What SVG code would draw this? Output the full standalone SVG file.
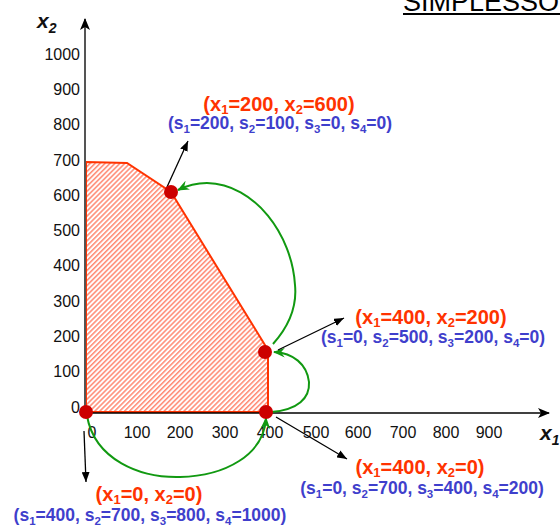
<svg xmlns="http://www.w3.org/2000/svg" width="560" height="527" viewBox="0 0 560 527">
<style>
.tick{font-family:"Liberation Sans",Arial,sans-serif;font-size:16px;fill:#111}
.ax{font-family:"Liberation Sans",Arial,sans-serif;font-size:21px;font-weight:bold;font-style:italic;fill:#111}
.xl{font-family:"Liberation Sans",Arial,sans-serif;font-size:20px;font-weight:bold;fill:#ff3300;text-anchor:middle}
.sl{font-family:"Liberation Sans",Arial,sans-serif;font-size:17.5px;font-weight:bold;fill:#3f3fcc;text-anchor:middle}
.dot{fill:#cc0000}
.g{fill:none;stroke:#119911;stroke-width:2;marker-end:url(#ga)}
.k{fill:none;stroke:#000;stroke-width:1.3;marker-end:url(#ka)}
</style>
<defs>
<pattern id="hatch" patternUnits="userSpaceOnUse" width="3.5" height="3.5" patternTransform="rotate(45)">
<rect width="3.5" height="3.5" fill="#fff"/>
<line x1="0.8" y1="0" x2="0.8" y2="3.5" stroke="#ff6a4d" stroke-width="1.2"/>
</pattern>
<marker id="ga" viewBox="0 0 12 10" refX="11" refY="5" markerWidth="12" markerHeight="10" markerUnits="userSpaceOnUse" orient="auto">
<path d="M0,0 L12,5 L0,10 L4,5 z" fill="#119911"/>
</marker>
<marker id="ka" viewBox="0 0 10 8" refX="10" refY="4" markerWidth="10" markerHeight="8" markerUnits="userSpaceOnUse" orient="auto">
<path d="M0,0 L10,4 L0,8 z" fill="#000"/>
</marker>
<marker id="axa" viewBox="0 0 12 10" refX="11" refY="5" markerWidth="12" markerHeight="10" markerUnits="userSpaceOnUse" orient="auto">
<path d="M0,0 L12,5 L0,10 L3,5 z" fill="#000"/>
</marker>
</defs>
<rect width="560" height="527" fill="#fff"/>

<g id="title">
<text x="403" y="11" font-family="'Liberation Sans',Arial,sans-serif" font-size="27" fill="#000">SIMPLESSO</text>
<line x1="403" y1="14" x2="560" y2="14" stroke="#000" stroke-width="2"/>
</g>

<g id="region">
<polygon points="86,162 127,163 171,192 268,350 268,412 86,412" fill="url(#hatch)" stroke="#ff3300" stroke-width="2"/>
</g>

<g id="axes">
<line x1="85" y1="413" x2="85" y2="19" stroke="#555" stroke-width="2" marker-end="url(#axa)"/>
<line x1="85" y1="413" x2="549" y2="413" stroke="#000" stroke-width="1.6" marker-end="url(#axa)"/>
<text class="ax" x="37" y="28">x<tspan font-size="14" dy="5">2</tspan></text>
<text class="ax" x="540" y="440">x<tspan font-size="14" dy="5">1</tspan></text>
<g class="tick" text-anchor="end">
<text x="80" y="60">1000</text>
<text x="80" y="95">900</text>
<text x="80" y="130">800</text>
<text x="80" y="166">700</text>
<text x="80" y="201">600</text>
<text x="80" y="236">500</text>
<text x="80" y="271">400</text>
<text x="80" y="307">300</text>
<text x="80" y="342">200</text>
<text x="80" y="377">100</text>
<text x="80" y="413">0</text>
</g>
<g class="tick" text-anchor="middle">
<text x="92" y="438">0</text>
<text x="137" y="438">100</text>
<text x="180" y="438">200</text>
<text x="225" y="438">300</text>
<text x="270" y="438">400</text>
<text x="316" y="438">500</text>
<text x="358" y="438">600</text>
<text x="403" y="438">700</text>
<text x="446" y="438">800</text>
<text x="489" y="438">900</text>
</g>
</g>

<g id="connectors">
<path class="g" d="M87,416 C95,460 140,478 180,477 C225,476 264,455 266,418"/>
<path class="g" d="M271,412 C298,410 310,398 309,382 C307,364 293,353 274,352"/>
<path class="g" d="M273,344 C290,325 297,305 295,285 C292,235 255,184 207,183 C195,183 186,186 178,190"/>
<path class="k" d="M167,187 L188,141"/>
<path class="k" d="M278,350 L344,318"/>
<path class="k" d="M276,417 L347,459"/>
<path class="k" d="M84,431 L86,482"/>
</g>

<g id="v-200-600">
<circle class="dot" cx="171" cy="192" r="7"/>
<text class="xl" x="279" y="111">(x<tspan font-size="13" dy="3">1</tspan><tspan dy="-3">=200, x</tspan><tspan font-size="13" dy="3">2</tspan><tspan dy="-3">=600)</tspan></text>
<text class="sl" x="280" y="129">(s<tspan font-size="11.5" dy="4">1</tspan><tspan dy="-4">=200, s</tspan><tspan font-size="11.5" dy="4">2</tspan><tspan dy="-4">=100, s</tspan><tspan font-size="11.5" dy="4">3</tspan><tspan dy="-4">=0, s</tspan><tspan font-size="11.5" dy="4">4</tspan><tspan dy="-4">=0)</tspan></text>
</g>

<g id="v-400-200">
<circle class="dot" cx="265" cy="352" r="7"/>
<text class="xl" x="431" y="324">(x<tspan font-size="13" dy="3">1</tspan><tspan dy="-3">=400, x</tspan><tspan font-size="13" dy="3">2</tspan><tspan dy="-3">=200)</tspan></text>
<text class="sl" x="433" y="343">(s<tspan font-size="11.5" dy="4">1</tspan><tspan dy="-4">=0, s</tspan><tspan font-size="11.5" dy="4">2</tspan><tspan dy="-4">=500, s</tspan><tspan font-size="11.5" dy="4">3</tspan><tspan dy="-4">=200, s</tspan><tspan font-size="11.5" dy="4">4</tspan><tspan dy="-4">=0)</tspan></text>
</g>

<g id="v-400-0">
<circle class="dot" cx="266" cy="412" r="7"/>
<text class="xl" x="420" y="474">(x<tspan font-size="13" dy="3">1</tspan><tspan dy="-3">=400, x</tspan><tspan font-size="13" dy="3">2</tspan><tspan dy="-3">=0)</tspan></text>
<text class="sl" x="422" y="494">(s<tspan font-size="11.5" dy="4">1</tspan><tspan dy="-4">=0, s</tspan><tspan font-size="11.5" dy="4">2</tspan><tspan dy="-4">=700, s</tspan><tspan font-size="11.5" dy="4">3</tspan><tspan dy="-4">=400, s</tspan><tspan font-size="11.5" dy="4">4</tspan><tspan dy="-4">=200)</tspan></text>
</g>

<g id="v-0-0">
<circle class="dot" cx="86" cy="412" r="7"/>
<text class="xl" x="149" y="501">(x<tspan font-size="13" dy="3">1</tspan><tspan dy="-3">=0, x</tspan><tspan font-size="13" dy="3">2</tspan><tspan dy="-3">=0)</tspan></text>
<text class="sl" x="150" y="521">(s<tspan font-size="11.5" dy="4">1</tspan><tspan dy="-4">=400, s</tspan><tspan font-size="11.5" dy="4">2</tspan><tspan dy="-4">=700, s</tspan><tspan font-size="11.5" dy="4">3</tspan><tspan dy="-4">=800, s</tspan><tspan font-size="11.5" dy="4">4</tspan><tspan dy="-4">=1000)</tspan></text>
</g>
</svg>
